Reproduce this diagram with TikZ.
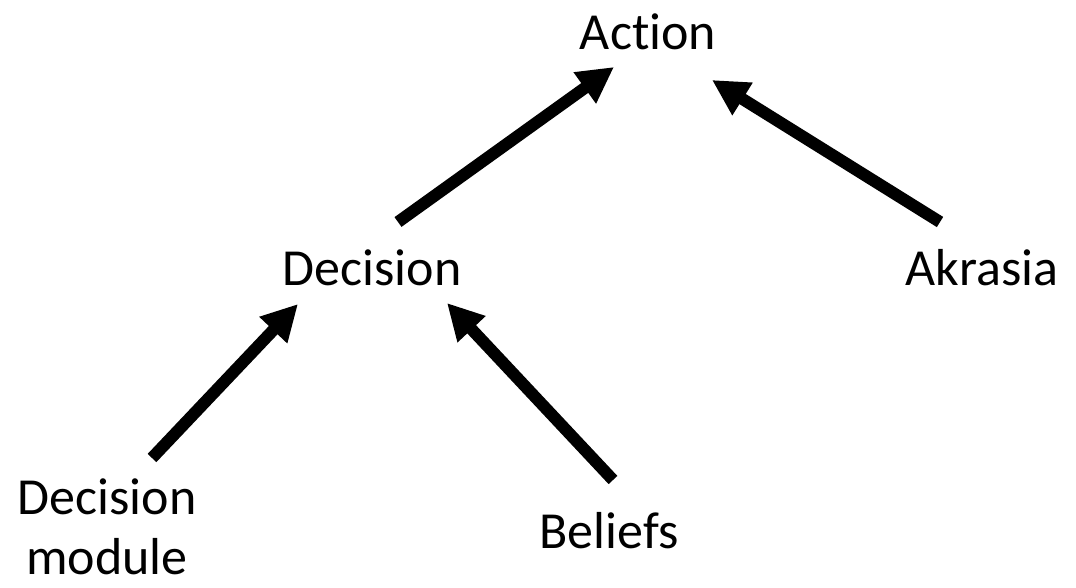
\documentclass[tikz,border=0pt]{standalone}
\usepackage{fontspec}
\setmainfont{Carlito}[Ligatures=CommonOff]
\usetikzlibrary{arrows.meta}
\begin{document}
\begin{tikzpicture}[x=1pt,y=-1pt,
  lbl/.style={font=\fontsize{52}{60}\selectfont, inner sep=0pt, align=center},
  arr/.style={line width=12pt, -{Triangle[length=36pt,width=36pt]}}]
\useasboundingbox (0,0) rectangle (1076,588);
\node[lbl] (action) at (648,32) {Action};
\node[lbl] (decision) at (372,268) {Decision};
\node[lbl] (akrasia) at (982,268) {Akrasia};
\node[lbl] (module) at (107,527) {Decision\\module};
\node[lbl] (beliefs) at (609,531) {Beliefs};
\coordinate (s1) at (398,222); \coordinate (e1) at (614,67);
\coordinate (s2) at (940,222); \coordinate (e2) at (712,80);
\coordinate (s3) at (152,458); \coordinate (e3) at (298,304);
\coordinate (s4) at (613,480); \coordinate (e4) at (447,303);
\draw[arr] (s1) -- (e1);
\draw[arr] (s2) -- (e2);
\draw[arr] (s3) -- (e3);
\draw[arr] (s4) -- (e4);
\end{tikzpicture}
\end{document}
